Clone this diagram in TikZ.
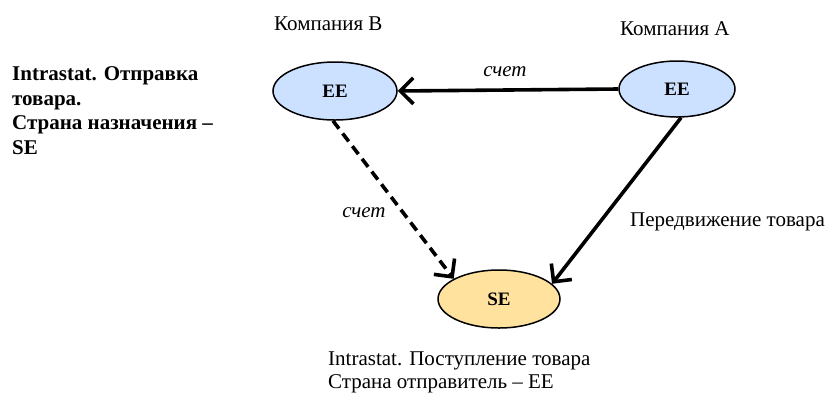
\documentclass[tikz,border=0pt]{standalone}
\usepackage{fontspec}
\setmainfont{Liberation Serif}
\usetikzlibrary{arrows.meta,shapes.geometric}
\definecolor{eeblue}{RGB}{204,224,255}
\definecolor{seyellow}{RGB}{255,226,158}
\begin{document}
\begin{tikzpicture}[x=1pt,y=-1pt,
  country/.style={ellipse,draw=black,line width=1.5pt,inner sep=0pt,font=\fontsize{19}{22}\selectfont\bfseries},
  flow/.style={line width=3.6pt,-{Straight Barb[length=13pt,width=26pt,line width=3.6pt]}},
  lbl/.style={font=\fontsize{21}{24}\selectfont,inner sep=0pt},
  ital/.style={font=\fontsize{21}{24}\selectfont\itshape,inner sep=0pt},
]
\useasboundingbox (0,0) rectangle (830,392);
\node[country,fill=eeblue,minimum width=124pt,minimum height=58pt] (B) at (335,91) {EE};
\node[country,fill=eeblue,minimum width=116pt,minimum height=56pt] (A) at (677,89) {EE};
\node[country,fill=seyellow,minimum width=122pt,minimum height=58pt] (S) at (499,299) {SE};
\draw[flow] (A.west) -- (B.east);
\draw[flow,dash pattern=on 10pt off 6pt] (B.-94) -- (S.156);
\draw[flow] (A.-82) -- (S.16);
\node[ital,anchor=base] (l1) at (505,76) {счет};
\node[ital,anchor=base] (l2) at (364,217) {счет};
\node[lbl,anchor=base west] (mv) at (630,226) {Передвижение товара};
\node[lbl,anchor=base west] (cb) at (274,30) {Компания B};
\node[lbl,anchor=base west] (ca) at (620,35) {Компания A};
\node[anchor=base west,align=left,inner sep=0pt,font=\fontsize{21}{24.4}\selectfont\bfseries] (left) at (12,154) {Intrastat. Отправка\\товара.\\Страна назначения –\\SE};
\node[lbl,anchor=base west,align=left,font=\fontsize{21}{22.5}\selectfont] (bot) at (328,388) {Intrastat. Поступление товара\\Страна отправитель – EE};
\end{tikzpicture}
\end{document}
